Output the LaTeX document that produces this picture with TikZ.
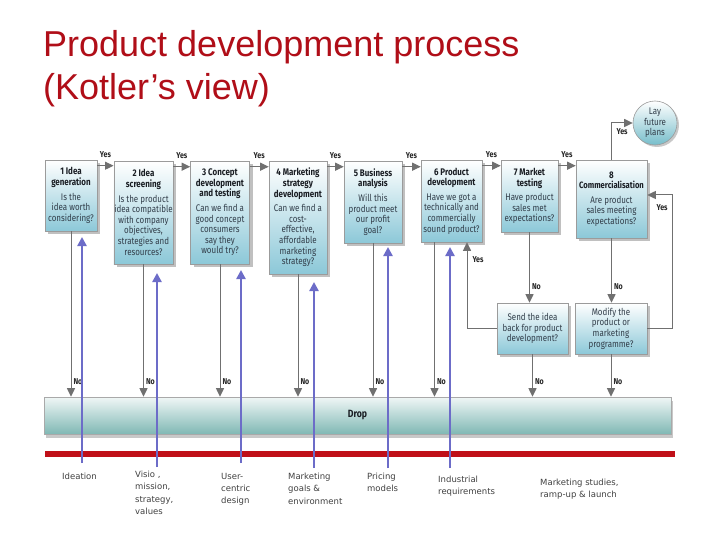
\documentclass[tikz,border=0pt]{standalone}
\usepackage{fontspec}
\setmainfont{Fira Sans}
\newfontfamily\titlefont{Liberation Sans}
\newfontfamily\boxfont[FakeStretch=0.83]{Fira Sans}
\newfontfamily\lblfont{DejaVu Sans}
\usetikzlibrary{arrows.meta,shadows,calc}
\definecolor{titlered}{RGB}{176,14,24}
\definecolor{barred}{RGB}{192,16,24}
\definecolor{boxc}{RGB}{140,200,216}
\definecolor{dropc}{RGB}{128,184,180}
\definecolor{purp}{RGB}{108,108,200}
\definecolor{conn}{RGB}{112,112,112}
\definecolor{btxt}{RGB}{26,30,36}
\definecolor{qtxt}{RGB}{50,62,74}
\tikzset{
  stagebox/.style={draw=conn!70, line width=0.6pt, top color=white, bottom color=boxc,
    drop shadow={shadow xshift=3pt,shadow yshift=-3pt,opacity=0.35,fill=black!70},
    inner sep=0.5pt, align=center, font=\boxfont\fontsize{9.6}{10.6}\selectfont, text=qtxt},
  dropbar/.style={draw=conn!60, line width=0.6pt, top color=dropc!12, bottom color=dropc,
    drop shadow={shadow xshift=2pt,shadow yshift=-4pt,opacity=0.3,fill=black!70},
    font=\boxfont\bfseries\fontsize{10.5}{12}\selectfont, text=btxt},
  laycircle/.style={circle, draw=conn!70, line width=0.6pt, inner sep=0pt, minimum size=44pt,
    top color=white, bottom color=boxc!85!teal, align=center,
    drop shadow={shadow xshift=2pt,shadow yshift=-2pt,opacity=0.3,fill=black!70},
    font=\boxfont\fontsize{9.6}{10.6}\selectfont, text=qtxt},
  grayarr/.style={draw=conn, line width=1pt, -{Triangle[length=8.5pt,width=8pt]}},
  purparr/.style={draw=purp, line width=2.6pt, -{Triangle[length=9pt,width=9pt]}},
  redbar/.style={draw=barred, line width=6pt},
  yn/.style={font=\boxfont\bfseries\fontsize{8.5}{10}\selectfont, text=black!85, inner sep=1pt},
  bottomlbl/.style={font=\lblfont\fontsize{8.5}{12.2}\selectfont, text=black!75, align=left,
    anchor=north west, inner sep=0pt},
  ttl/.style={font=\titlefont\fontsize{36}{43}\selectfont, text=titlered, anchor=base west, inner sep=0pt},
}
\newcommand{\hd}[1]{\textcolor{btxt}{\textbf{#1}}}
\begin{document}
\begin{tikzpicture}[x=1pt,y=-1pt]
\useasboundingbox (0,0) rectangle (720,540);
\fill[white] (0,0) rectangle (720,540);

% title
\node[ttl] (t1) at (43,57) {Product development process};
\node[ttl] (t2) at (43,100) {(Kotler’s view)};

% stage boxes
\node[stagebox, minimum width=52pt, minimum height=71pt] (b1) at (71,195.5)
  {\hd{1 Idea}\\\hd{generation}\\[4pt]Is the\\idea worth\\considering?};
\node[stagebox, minimum width=55pt, minimum height=103pt] (b2) at (143.5,212.5)
  {\hd{2 Idea}\\\hd{screening}\\[4pt]Is the product\\idea compatible\\with company\\objectives,\\strategies and\\resources?};
\node[stagebox, minimum width=59pt, minimum height=103pt] (b3) at (220,212.5)
  {\hd{3 Concept}\\\hd{development}\\\hd{and testing}\\[4pt]Can we find a\\good concept\\consumers\\say they\\would try?};
\node[stagebox, minimum width=58pt, minimum height=113pt] (b4) at (298,217.5)
  {\hd{4 Marketing}\\\hd{strategy}\\\hd{development}\\[4pt]Can we find a\\cost-\\effective,\\affordable\\marketing\\strategy?};
\node[stagebox, minimum width=58pt, minimum height=82pt] (b5) at (373,202)
  {\hd{5 Business}\\\hd{analysis}\\[4pt]Will this\\product meet\\our profit\\goal?};
\node[stagebox, minimum width=61pt, minimum height=82pt] (b6) at (451.5,201)
  {\hd{6 Product}\\\hd{development}\\[4pt]Have we got a\\technically and\\commercially\\sound product?};
\node[stagebox, minimum width=57pt, minimum height=72pt] (b7) at (529.5,196)
  {\hd{7 Market}\\\hd{testing}\\[4pt]Have product\\sales met\\expectations?};
\node[stagebox, minimum width=71pt, minimum height=78pt] (b8) at (611.5,199)
  {\hd{8}\\{\fontsize{9.2}{10.6}\selectfont\hd{Commercialisation}}\\[4pt]Are product\\sales meeting\\expectations?};
\node[stagebox, minimum width=71pt, minimum height=51pt] (send) at (532.5,328.5)
  {Send the idea\\back for product\\development?};
\node[stagebox, minimum width=72pt, minimum height=51pt] (modify) at (611,328.5)
  {Modify the\\product or\\marketing\\programme?};
\node[laycircle] (lay) at (655,123) {Lay\\future\\plans};

% drop bar
\node[dropbar, minimum width=627pt, minimum height=37pt] (drop) at (357.5,415.5) {Drop};

% yes arrows along the top
\foreach \a/\b in {b1/b2,b2/b3,b3/b4,b4/b5,b5/b6,b6/b7,b7/b8}
  \draw[grayarr] ([yshift=-6pt]\a.north east) -- ([yshift=-6pt]\a.north east -| \b.west)
    node[midway, above=7pt, yn] {Yes};
\draw[grayarr] (b8.north) |- node[pos=0.75, below=4pt, yn] {Yes} (lay.west);

% no arrows to drop
\foreach \s in {b1,b2,b3,b4,b5,send,modify}
  \draw[grayarr] (\s.south) -- (\s.south |- drop.north)
    node[pos=1, yn, anchor=south west, xshift=1pt, yshift=11pt] {No};
\draw[grayarr] ([xshift=-17pt]b6.south) -- ([xshift=-17pt]b6.south |- drop.north)
    node[pos=1, yn, anchor=south west, xshift=1pt, yshift=11pt] {No};
\draw[grayarr] (b7.south) -- (b7.south |- send.north)
    node[pos=1, yn, anchor=south west, xshift=1pt, yshift=12pt] {No};
\draw[grayarr] (b8.south) -- (b8.south |- modify.north)
    node[pos=1, yn, anchor=south west, xshift=1pt, yshift=12pt] {No};

% yes loops back
\draw[grayarr] (send.west) -| ([xshift=15.5pt]b6.south)
    node[pos=0.9, anchor=west, xshift=4pt, yn] {Yes};
\coordinate (rt) at (672,195);
\draw[grayarr] (modify.east) -| (rt) -- (rt -| b8.east)
    node[pos=0.4, below=8pt, yn] {Yes};

% red bar
\coordinate (r1) at (45,454);
\coordinate (r2) at (675,454);
\draw[redbar] (r1) -- (r2);

% purple arrows
\coordinate (p1b) at (82,463);  \coordinate (p1t) at (82,237);
\coordinate (p2b) at (157,467); \coordinate (p2t) at (157,273);
\coordinate (p3b) at (241,463); \coordinate (p3t) at (241,270);
\coordinate (p4b) at (314,468); \coordinate (p4t) at (314,282);
\coordinate (p5b) at (388,468); \coordinate (p5t) at (388,247);
\coordinate (p6b) at (450,468); \coordinate (p6t) at (450,247);
\foreach \i in {1,...,6} \draw[purparr] (p\i b) -- (p\i t);

% bottom labels
\node[bottomlbl] (l1) at (62,473) {Ideation};
\node[bottomlbl] (l2) at (135,471) {Visio ,\\mission,\\strategy,\\values};
\node[bottomlbl] (l3) at (221,473) {User-\\centric\\design};
\node[bottomlbl] (l4) at (288,473) {Marketing\\goals \&\\environment};
\node[bottomlbl] (l5) at (367,473) {Pricing\\models};
\node[bottomlbl] (l6) at (438,476) {Industrial\\requirements};
\node[bottomlbl] (l7) at (540,479) {Marketing studies,\\ramp-up \& launch};
\end{tikzpicture}
\end{document}
